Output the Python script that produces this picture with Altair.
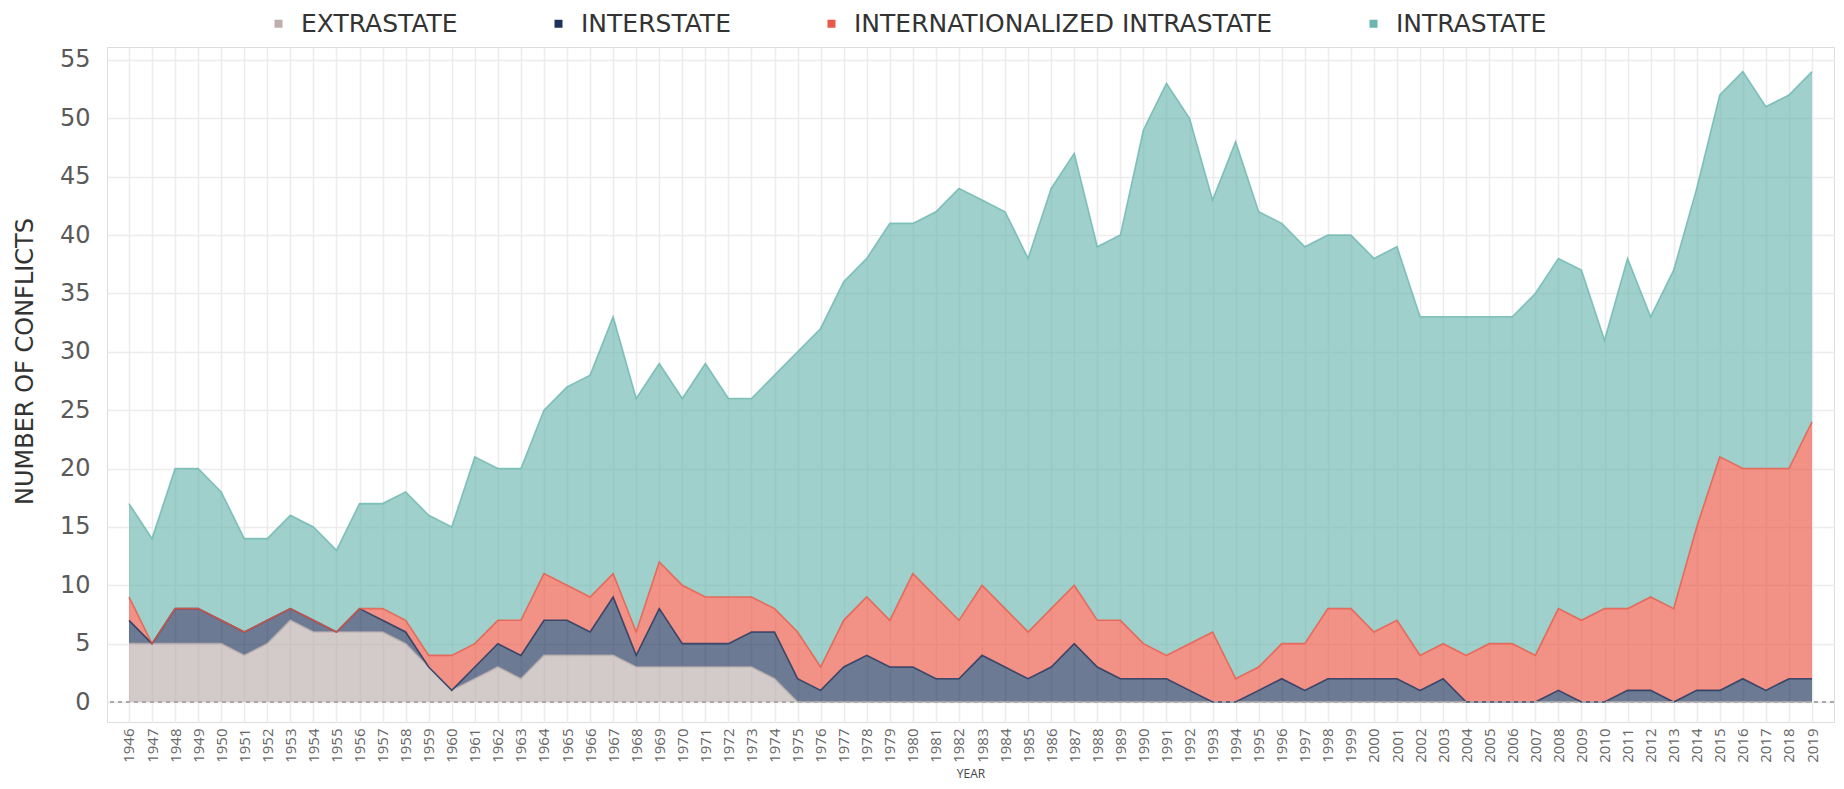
import altair as alt
import pandas as pd

years = list(range(1946, 2020))

types = ["EXTRASTATE", "INTERSTATE", "INTERNATIONALIZED INTRASTATE", "INTRASTATE"]
colors = ["#bcafac", "#1d325b", "#eb5746", "#6bb7af"]

extrastate = [5, 5, 5, 5, 5, 4, 5, 7, 6, 6,
              6, 6, 5, 3, 1, 2, 3, 2, 4, 4,
              4, 4, 3, 3, 3, 3, 3, 3, 2, 0,
              0, 0, 0, 0, 0, 0, 0, 0, 0, 0,
              0, 0, 0, 0, 0, 0, 0, 0, 0, 0,
              0, 0, 0, 0, 0, 0, 0, 0, 0, 0,
              0, 0, 0, 0, 0, 0, 0, 0, 0, 0,
              0, 0, 0, 0]

interstate = [2, 0, 3, 3, 2, 2, 2, 1, 1, 0,
              2, 1, 1, 0, 0, 1, 2, 2, 3, 3,
              2, 5, 1, 5, 2, 2, 2, 3, 4, 2,
              1, 3, 4, 3, 3, 2, 2, 4, 3, 2,
              3, 5, 3, 2, 2, 2, 1, 0, 0, 1,
              2, 1, 2, 2, 2, 2, 1, 2, 0, 0,
              0, 0, 1, 0, 0, 1, 1, 0, 1, 1,
              2, 1, 2, 2]

internationalized = [2, 0, 0, 0, 0, 0, 0, 0, 0, 0,
                     0, 1, 1, 1, 3, 2, 2, 3, 4, 3,
                     3, 2, 2, 4, 5, 4, 4, 3, 2, 4,
                     2, 4, 5, 4, 8, 7, 5, 6, 5, 4,
                     5, 5, 4, 5, 3, 2, 4, 6, 2, 2,
                     3, 4, 6, 6, 4, 5, 3, 3, 4, 5,
                     5, 4, 7, 7, 8, 7, 8, 8, 14, 20,
                     18, 19, 18, 22]

intrastate = [8, 9, 12, 12, 11, 8, 7, 8, 8, 7,
              9, 9, 11, 12, 11, 16, 13, 13, 14, 17,
              19, 22, 20, 17, 16, 20, 17, 17, 20, 24,
              29, 29, 29, 34, 30, 33, 37, 33, 34, 32,
              36, 37, 32, 33, 44, 49, 45, 37, 46, 39,
              36, 34, 32, 32, 32, 32, 29, 28, 29, 28,
              28, 31, 30, 30, 23, 30, 24, 29, 29, 31,
              34, 31, 32, 30]

y_ticks = list(range(0, 56, 5))

series = [extrastate, interstate, internationalized, intrastate]
rows = []
for order, (name, vals) in enumerate(zip(types, series)):
    for yr, v in zip(years, vals):
        rows.append({"year": yr, "type": name, "count": v, "order": order})
df = pd.DataFrame(rows)

x_scale = alt.Scale(domain=[1945.046, 2019.954], nice=False, zero=False)
y_scale = alt.Scale(domain=[-1.71, 56.11], nice=False, zero=False)
color_scale = alt.Scale(domain=types, range=colors)

base = alt.Chart(df).transform_stack(
    stack="count",
    groupby=["year"],
    as_=["y0", "y1"],
    sort=[alt.SortField("order", order="ascending")],
)

x_axis = alt.Axis(
    values=years,
    format="d",
    labelAngle=270,
    labelFont="Open Sans",
    labelFontSize=15,
    labelColor="#666666",
    labelPadding=6,
    labelOverlap=False,
    labelFlush=False,
    title="YEAR",
    titleFont="Open Sans",
    titleFontSize=12,
    titleFontWeight="normal",
    titleColor="#444444",
    titlePadding=6,
    grid=True,
    gridColor="#ececec",
    gridWidth=1.5,
    domain=False,
    ticks=False,
)

y_axis = alt.Axis(
    values=y_ticks,
    labelFont="DejaVu Sans",
    labelFontSize=24,
    labelColor="#5a5a5a",
    labelPadding=17,
    title="NUMBER OF CONFLICTS",
    titleFont="DejaVu Sans",
    titleFontSize=24,
    titleFontWeight="normal",
    titleColor="#333333",
    titleAngle=270,
    titleAlign="center",
    titleBaseline="middle",
    titleX=-82,
    titleY=314,
    grid=True,
    gridColor="#ececec",
    gridWidth=1.5,
    domain=False,
    ticks=False,
)

legend = alt.Legend(
    orient="none",
    legendX=159,
    legendY=-36,
    direction="horizontal",
    title=None,
    symbolType="square",
    symbolSize=64,
    symbolOpacity=1,
    symbolStrokeWidth=0,
    labelFont="DejaVu Sans",
    labelFontSize=25,
    labelColor="#333333",
    labelLimit=900,
    labelOffset=10,
    columnPadding=88,
    padding=0,
)

x_enc = alt.X("year:Q", scale=x_scale, axis=x_axis)
y_enc = alt.Y("y1:Q", scale=y_scale, axis=y_axis)
color_enc = alt.Color("type:N", scale=color_scale, legend=legend)

areas = base.mark_area(opacity=0.65).encode(
    x=x_enc,
    y=y_enc,
    y2="y0:Q",
    color=color_enc,
    order=alt.Order("order:Q"),
)

lines = base.mark_line(strokeWidth=1.6, opacity=0.8).encode(
    x=x_enc,
    y=y_enc,
    color=color_enc,
)

zero_rule = alt.Chart(df).mark_rule(
    color="#aaaaaa", strokeDash=[4, 4], strokeWidth=1
).encode(y=alt.datum(0))

chart = alt.layer(areas, lines, zero_rule).properties(
    width=1727,
    height=675,
    autosize=alt.AutoSizeParams(type="none"),
    padding={"left": 99, "top": 39, "right": 2, "bottom": 59},
).configure_view(stroke=None).configure(background="white")

chart.save("out.html", embed_options={"renderer": "svg", "actions": False})
